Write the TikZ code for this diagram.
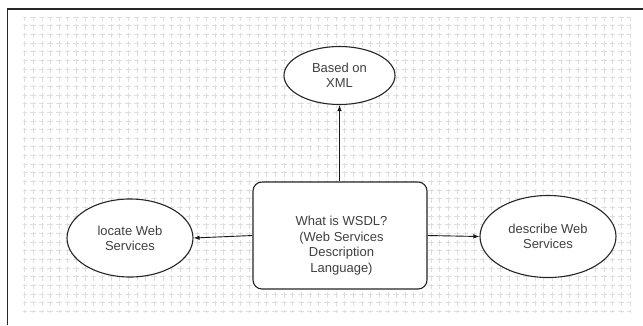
\documentclass[tikz,border=0pt]{standalone}
\usepackage{fontspec}
\setmainfont{Liberation Sans}
\usetikzlibrary{shapes.geometric,arrows.meta}

\begin{document}
\begin{tikzpicture}[x=1pt,y=-1pt,
  gridline/.style={draw=black!13, line width=0.6pt, dash pattern=on 5.5pt off 3.15pt, dash phase=1.5pt},
  topic/.style={ellipse, draw=black!85, line width=1.1pt, fill=white, inner sep=0pt,
    font=\fontsize{13}{15}\selectfont, text=black!75, align=center},
  hub/.style={rectangle, rounded corners=9pt, draw=black!85, line width=1.1pt, fill=white,
    minimum width=174pt, minimum height=107pt, inner sep=0pt},
  hubtext/.style={font=\fontsize{13}{15.5}\selectfont, text=black!75, align=center, inner sep=0pt},
  link/.style={draw=black!90, line width=0.9pt, -{Latex[length=6pt,width=4.5pt]}}
]
\useasboundingbox (0,0) rectangle (643,325);
\fill[white] (0,0) rectangle (643,325);

% background grid
\foreach \i in {0,...,70} {
  \draw[gridline] (24.5+\i*8.65,17) -- (24.5+\i*8.65,313);
}
\foreach \j in {0,...,34} {
  \draw[gridline] (23,17+\j*8.65) -- (631,17+\j*8.65);
}

% page frame
\draw[line width=1.3pt, black!85] (7.5,325) -- (7.5,9) -- (643,9);

% shapes
\node[hub] (hub) at (340,235.5) {};
\node[hubtext] (hubtext) at (341.5,245.5) {What is WSDL?\\(Web Services\\Description\\Language)};
\node[topic, minimum width=111pt, minimum height=58pt] (xml) at (339.5,75.5) {Based on\\XML};
\node[topic, minimum width=126pt, minimum height=78pt] (locate) at (130,238) {locate Web\\Services};
\node[topic, minimum width=136pt, minimum height=82pt] (describe) at (548,236.5) {describe Web\\Services};

% connectors
\draw[link] (hub.north -| xml.south) -- (xml.south);
\draw[link] (hub.west) -- (locate.east);
\draw[link] (hub.east) -- (describe.west);
\end{tikzpicture}
\end{document}
